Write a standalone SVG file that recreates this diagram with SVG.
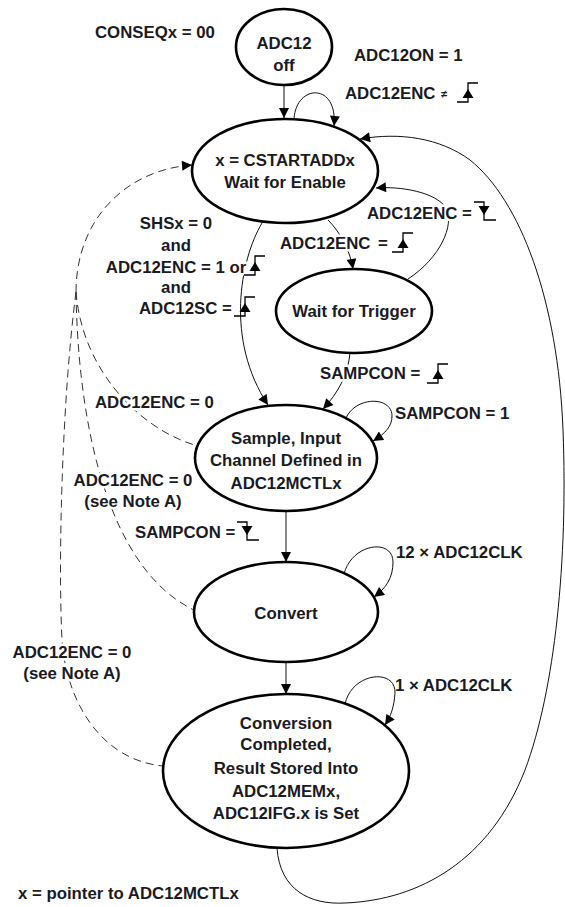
<svg xmlns="http://www.w3.org/2000/svg" width="565" height="907" viewBox="0 0 565 907">
  <style>
    .node { fill: #fff; stroke: #000; stroke-width: 2.6; }
    .edge { fill: none; stroke: #111; stroke-width: 1; }
    .dash { fill: none; stroke: #333; stroke-width: 1; stroke-dasharray: 8 5; }
    .t { font-family: "Liberation Sans", Arial, Helvetica, sans-serif; font-weight: bold; font-size: 16.8px; fill: #1a1a24; }
    .c { text-anchor: middle; }
    .h { stroke: #fff; stroke-width: 5; stroke-linejoin: round; paint-order: stroke; }
    .sym { fill: none; stroke: #000; stroke-width: 1.3; }
  </style>
  <defs>
    <marker id="ah" viewBox="0 0 10 10" refX="10" refY="5" markerWidth="11" markerHeight="10" markerUnits="userSpaceOnUse" orient="auto">
      <path d="M0,0 L10,5 L0,10 z" fill="#000"/>
    </marker>
    <!-- rising edge: low -> high with up arrow -->
    <g id="rise">
      <path class="sym" d="M0,0 H11 V-19 H21"/>
      <path d="M11,-13 L5.5,-4 H16.5 Z" fill="#000"/>
    </g>
    <!-- falling edge: high -> low with down arrow -->
    <g id="fall">
      <path class="sym" d="M0,-18 H10 V0 H22"/>
      <path d="M10,-5 L4.5,-14 H15.5 Z" fill="#000"/>
    </g>
  </defs>

  <!-- transitions -->
  <g id="connectors">
    <path class="edge" d="M284,85 L284,118" marker-end="url(#ah)"/>
    <path class="edge" d="M294,119 C296,84 338,82 334,126" marker-end="url(#ah)"/>
    <path class="edge" d="M328,220 C340,232 350,250 353,269" marker-end="url(#ah)"/>
    <path class="edge" d="M408,279 C440,258 455,225 446,208 C436,192 400,186 376,188" marker-end="url(#ah)"/>
    <path class="edge" d="M262,223 C240,260 225,340 268,405" marker-end="url(#ah)"/>
    <path class="edge" d="M350,353 C348,375 338,393 323,409" marker-end="url(#ah)"/>
    <path class="edge" d="M346,418 C356,396 392,396 392,416 C392,426 386,433 373,441" marker-end="url(#ah)"/>
    <path class="edge" d="M286,511 L286,562" marker-end="url(#ah)"/>
    <path class="edge" d="M344,574 C352,543 393,538 393,562 C393,578 386,588 374,597" marker-end="url(#ah)"/>
    <path class="edge" d="M286,662 L286,694" marker-end="url(#ah)"/>
    <path class="edge" d="M345,704 C352,672 396,668 395,693 C394,707 391,716 385,725" marker-end="url(#ah)"/>
    <path class="edge" d="M277,848 C280,890 310,905 345,903 C420,900 490,860 525,770 C555,690 568,560 563,430 C558,300 520,200 470,160 C440,138 400,132 360,139" marker-end="url(#ah)"/>
    <!-- ADC12ENC = 0 returns -->
    <path class="dash" d="M76,292 C76,220 125,170 192,165" marker-end="url(#ah)"/>
    <path class="dash" d="M76,292 C82,370 140,430 198,446"/>
    <path class="dash" d="M76,292 C78,430 110,570 194,610"/>
    <path class="dash" d="M76,292 C62,400 58,560 62,640 C66,700 100,760 163,766"/>
  </g>

  <!-- states -->
  <g id="adc_off">
    <ellipse class="node" cx="284" cy="47" rx="48" ry="38"/>
    <text class="t c" x="284" y="49">ADC12</text>
    <text class="t c" x="284" y="71">off</text>
  </g>
  <g id="wait_enable">
    <ellipse class="node" cx="285" cy="171" rx="93" ry="52"/>
    <text class="t c" x="285" y="166">x = CSTARTADDx</text>
    <text class="t c" x="285" y="188">Wait for Enable</text>
  </g>
  <g id="wait_trigger">
    <ellipse class="node" cx="354" cy="311" rx="78" ry="42"/>
    <text class="t c" x="354" y="317">Wait for Trigger</text>
  </g>
  <g id="sample">
    <ellipse class="node" cx="286" cy="458" rx="91" ry="53"/>
    <text class="t c" x="286" y="444">Sample, Input</text>
    <text class="t c" x="286" y="466">Channel Defined in</text>
    <text class="t c" x="286" y="489">ADC12MCTLx</text>
  </g>
  <g id="convert">
    <ellipse class="node" cx="286" cy="612" rx="92" ry="50"/>
    <text class="t c" x="286" y="619">Convert</text>
  </g>
  <g id="completed">
    <ellipse class="node" cx="286" cy="771" rx="123" ry="77"/>
    <text class="t c" x="286" y="729">Conversion</text>
    <text class="t c" x="286" y="750">Completed,</text>
    <text class="t c" x="286" y="774">Result Stored Into</text>
    <text class="t c" x="286" y="797">ADC12MEMx,</text>
    <text class="t c" x="286" y="819">ADC12IFG.x is Set</text>
  </g>

  <!-- transition labels -->
  <g id="labels">
    <text class="t" x="95" y="38">CONSEQx = 00</text>
    <text class="t" x="354" y="61">ADC12ON = 1</text>
    <text class="t h" x="345" y="99">ADC12ENC</text>
    <text class="t" x="441" y="98" style="font-size:11px">≠</text>
    <use href="#rise" x="457" y="102"/>

    <text class="t h" x="367" y="219">ADC12ENC =</text>
    <use href="#fall" x="474" y="220"/>

    <text class="t c h" x="176" y="229">SHSx = 0</text>
    <text class="t c h" x="176" y="251">and</text>
    <text class="t c h" x="176" y="273">ADC12ENC = 1 or</text>
    <use href="#rise" x="244" y="275"/>
    <text class="t c h" x="176" y="293">and</text>
    <text class="t h" x="139" y="314">ADC12SC =</text>
    <use href="#rise" x="234" y="316"/>

    <text class="t h" x="280" y="249">ADC12ENC</text>
    <text class="t h" x="378" y="249">=</text>
    <use href="#rise" x="392" y="252"/>

    <text class="t h" x="320" y="379">SAMPCON =</text>
    <use href="#rise" x="427" y="383"/>

    <text class="t h" x="95" y="408">ADC12ENC = 0</text>
    <text class="t" x="395" y="419">SAMPCON = 1</text>

    <text class="t c h" x="133" y="486">ADC12ENC = 0</text>
    <text class="t c h" x="133" y="507">(see Note A)</text>

    <text class="t h" x="135" y="538">SAMPCON =</text>
    <use href="#fall" x="237" y="540"/>

    <text class="t" x="396" y="558">12 × ADC12CLK</text>

    <text class="t c h" x="72" y="658">ADC12ENC = 0</text>
    <text class="t c h" x="72" y="679">(see Note A)</text>

    <text class="t" x="395" y="691">1 × ADC12CLK</text>

    <text class="t" x="18" y="899">x = pointer to ADC12MCTLx</text>
  </g>
</svg>
